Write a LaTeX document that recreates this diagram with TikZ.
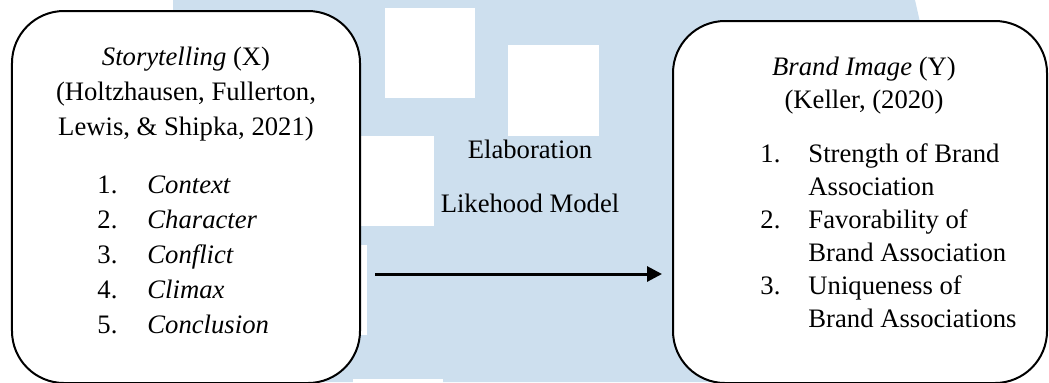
\documentclass[tikz,border=0pt]{standalone}
\usepackage{fontspec}
\setmainfont{Liberation Serif}
\usetikzlibrary{positioning,calc}
\usetikzlibrary{arrows.meta}

\definecolor{markblue}{RGB}{205,223,238}

\tikzset{
  framebox/.style={draw, line width=0.9pt, rounded corners=23.4pt, fill=white, inner sep=0pt, outer sep=0pt},
  storytext/.style={inner sep=0pt, font=\fontsize{12}{15.75}\selectfont},
  brandtext/.style={inner sep=0pt, font=\fontsize{12}{14.85}\selectfont},
  flow/.style={-{Triangle[length=6.75pt,width=6.75pt]}, line width=1.35pt}
}

\begin{document}
\begin{tikzpicture}[x=0.45pt, y=-0.45pt]
  \useasboundingbox (0,0) rectangle (1049,382);
  % \draw[step=50, gray!20!white, very thin] (0,0) grid (1049,382);

  % watermark behind the boxes
  \fill[markblue] (173,0) -- (915,0) -- (960,200) -- (960,382) -- (173,382) -- cycle;
  \fill[white] (385,8) rectangle (475,98);
  \fill[white] (508,45) rectangle (599,136);
  \fill[white] (344,136) rectangle (434,226);
  \fill[white] (277,245) rectangle (367,335);
  \fill[white] (353,379) rectangle (443,470);

  \node[framebox, minimum width=156.6pt, minimum height=167.4pt] at (186,197) (storybox) {};
  \node[framebox, minimum width=168.3pt, minimum height=162.9pt] at (860,202) (brandbox) {};

  % base of a multi-line node = its last line
  \node[storytext, align=center, anchor=base] at (186,135) (storyhead)
    {\textit{Storytelling} (X)\\(Holtzhausen, Fullerton,\\Lewis, \& Shipka, 2021)};
  \node[storytext, align=left, anchor=base west] at (97,333) (storylist)
    {\makebox[22.5pt][l]{1.}\textit{Context}\\
     \makebox[22.5pt][l]{2.}\textit{Character}\\
     \makebox[22.5pt][l]{3.}\textit{Conflict}\\
     \makebox[22.5pt][l]{4.}\textit{Climax}\\
     \makebox[22.5pt][l]{5.}\textit{Conclusion}};

  \node[brandtext, align=center, anchor=base] at (864,108) (brandhead)
    {\textit{Brand Image} (Y)\\(Keller, (2020)};
  \node[brandtext, align=left, anchor=base west] at (760,327) (brandlist)
    {\makebox[21.6pt][l]{1.}Strength of Brand\\
     \hspace*{21.6pt}Association\\
     \makebox[21.6pt][l]{2.}Favorability of\\
     \hspace*{21.6pt}Brand Association\\
     \makebox[21.6pt][l]{3.}Uniqueness of\\
     \hspace*{21.6pt}Brand Associations};

  \node[storytext, anchor=base] at (530,158) (elab) {Elaboration};
  \node[storytext, anchor=base] at (530,212) (lhm) {Likehood Model};

  \coordinate (arrowlevel) at (0,274);
  \draw[flow, shorten <=6.75pt, shorten >=4.95pt] (storybox.east |- arrowlevel) -- (brandbox.west |- arrowlevel);

\end{tikzpicture}
\end{document}
